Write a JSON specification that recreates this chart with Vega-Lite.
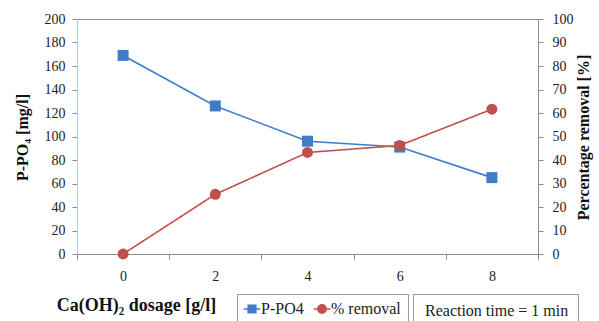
{
  "$schema": "https://vega.github.io/schema/vega-lite/v6.json",
  "width": 461,
  "height": 235,
  "autosize": {"type": "none"},
  "padding": {"left": 77, "top": 19, "right": 61, "bottom": 67},
  "background": "white",
  "config": {
    "font": "Liberation Serif",
    "view": {"stroke": "#8c8c8c", "strokeWidth": 1},
    "axis": {"labelFont": "Liberation Serif", "titleFont": "Liberation Serif", "labelFontSize": 14, "labelColor": "#222", "titleFontSize": 16, "titleFontWeight": "bold", "titleColor": "#111", "grid": false, "domainColor": "#8c8c8c", "tickColor": "#8c8c8c", "tickSize": 5},
    "legend": {"labelFont": "Liberation Serif", "labelFontSize": 16, "labelColor": "#222"}
  },
  "data": {"values": [
    {"dose": 0, "ppo4": 169, "removal": 0},
    {"dose": 2, "ppo4": 126, "removal": 25.4},
    {"dose": 4, "ppo4": 96, "removal": 43.2},
    {"dose": 6, "ppo4": 91, "removal": 46.2},
    {"dose": 8, "ppo4": 65, "removal": 61.6}
  ]},
  "encoding": {
    "x": {"field": "dose", "type": "ordinal", "scale": {"type": "band", "paddingInner": 0, "paddingOuter": 0},
      "axis": {"title": "Ca(OH)₂ dosage [g/l]", "titleFontSize": 18, "labelAngle": 0, "tickBand": "extent", "labelPadding": 10, "titleX": 59, "titleY": 51, "titleBaseline": "middle", "titleAlign": "center"}}
  },
  "layer": [
    {
      "encoding": {
        "y": {"field": "ppo4", "type": "quantitative", "scale": {"domain": [0, 200]},
          "axis": {"title": "P-PO₄ [mg/l]", "values": [0,20,40,60,80,100,120,140,160,180,200], "domainColor": "#b4c8e4", "labelPadding": 7, "titleX": -55, "titleY": 118, "titleBaseline": "middle", "titleAlign": "center", "titleAngle": 270}},
        "color": {"datum": "P-PO4", "scale": {"domain": ["P-PO4", "% removal"], "range": ["#3f7dc8", "#c0504d"]},
          "legend": {"title": null, "orient": "none", "legendX": 160, "legendY": 275, "direction": "horizontal", "strokeColor": "#999", "padding": 7, "symbolSize": 196, "labelOffset": 1, "columnPadding": 6,
            "encode": {"symbols": {"update": {
              "shape": {"signal": "datum.value === 'P-PO4' ? 'M-1.2,0H1.2M-0.55,-0.55H0.55V0.55H-0.55Z' : 'M-1.2,0H1.2M0.6,0A0.6,0.6 0 1,1 -0.6,0A0.6,0.6 0 1,1 0.6,0Z'"},
              "stroke": {"signal": "datum.value === 'P-PO4' ? '#3f7dc8' : '#c0504d'"},
              "fill": {"signal": "datum.value === 'P-PO4' ? '#4f81bd' : '#c0504d'"},
              "strokeWidth": {"value": 1.5}}}}}}
      },
      "layer": [
        {"mark": {"type": "line", "strokeWidth": 1.6}},
        {"mark": {"type": "point", "filled": true, "shape": "square", "size": 121, "opacity": 1, "color": "#4f81bd"}}
      ]
    },
    {
      "encoding": {
        "y": {"field": "removal", "type": "quantitative", "scale": {"domain": [0, 100]},
          "axis": {"orient": "right", "title": "Percentage removal [%]", "values": [0,10,20,30,40,50,60,70,80,90,100], "labelPadding": 9, "titleX": 45, "titleY": 118, "titleBaseline": "middle", "titleAlign": "center", "titleAngle": 270}},
        "color": {"datum": "% removal"}
      },
      "layer": [
        {"mark": {"type": "line", "strokeWidth": 1.6},
         "encoding": {"strokeDash": {"datum": "Reaction time = 1 min", "scale": {"range": [[1, 0]]},
           "legend": {"title": null, "orient": "none", "legendX": 336, "legendY": 275, "strokeColor": "#999", "padding": 9, "symbolSize": 0, "symbolOpacity": 0, "symbolStrokeWidth": 0, "labelOffset": -13}}}},
        {"mark": {"type": "point", "filled": true, "shape": "circle", "size": 120, "opacity": 1}}
      ]
    }
  ],
  "resolve": {"scale": {"y": "independent"}}
}
